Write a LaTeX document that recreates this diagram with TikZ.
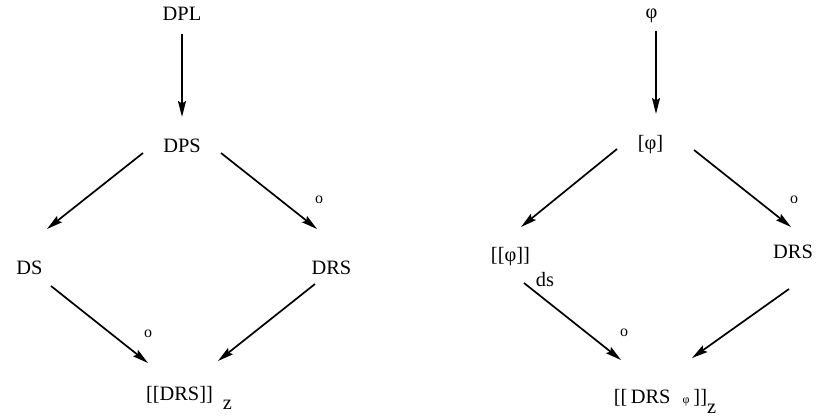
\documentclass[tikz,border=0pt]{standalone}
\usepackage{fontspec}
\setmainfont{Liberation Serif}
\usetikzlibrary{arrows.meta}

\begin{document}
\begin{tikzpicture}[x=0.5pt,y=-0.5pt,
    lbl/.style={anchor=base, inner sep=0pt, font=\fontsize{10.2}{12}\selectfont},
    op/.style={inner sep=0pt, font=\fontsize{8}{9}\selectfont},
    arr/.style={-{Stealth[length=8pt,width=4pt,inset=1.3pt]}, line width=0.85pt}
  ]
  \useasboundingbox (0,0) rectangle (820,417);
  % left square: DPL
  \node[lbl] (dpl) at (182,21) {DPL};
  \node[lbl] (dps) at (182,153) {DPS};
  \node[lbl] (ds) at (29.5,274) {DS};
  \node[lbl] (drsl) at (331.5,274) {DRS};
  \node[lbl] (semdrs) at (189,400) {[[DRS]]\hspace{5pt}\raisebox{-4.5pt}{z}};
  % right square: formula
  \node[lbl] (phi) at (651.5,19) {φ};
  \node[lbl] (brphi) at (650.5,150) {[φ]};
  \node[lbl] (semphi) at (522.5,262) {[[φ]]\hspace{3pt}\raisebox{-12.5pt}{ds}};
  \node[lbl] (drsr) at (793,258) {DRS};
  \node[lbl] (semdrsphi) at (665,403)
    {[[\,DRS\hspace{6pt}{\fontsize{6}{7}\selectfont φ}\hspace{2pt}]]\raisebox{-5pt}{z}};

  \draw[arr] ([shift={(0,13)}]dpl.base) -- ([shift={(0,-36)}]dps.base);
  \draw[arr] ([shift={(-39,0)}]dps.base) -- ([shift={(17.5,-45)}]ds.base);
  \draw[arr] ([shift={(39,0)}]dps.base) -- ([shift={(-14.5,-45)}]drsl.base);
  \draw[arr] ([shift={(21.5,12)}]ds.base) -- ([shift={(-41,-37)}]semdrs.base);
  \draw[arr] ([shift={(-16.5,10)}]drsl.base) -- ([shift={(29,-39)}]semdrs.base);

  \draw[arr] ([shift={(4.5,12)}]phi.base) -- ([shift={(5.5,-36)}]brphi.base);
  \draw[arr] ([shift={(-33.5,-1)}]brphi.base) -- ([shift={(-1.5,-35)}]semphi.base);
  \draw[arr] ([shift={(43.5,0)}]brphi.base) -- ([shift={(-2,-31)}]drsr.base);
  \draw[arr] ([shift={(1.5,21)}]semphi.base) -- ([shift={(-44,-43)}]semdrsphi.base);
  \draw[arr] ([shift={(-4,31)}]drsr.base) -- ([shift={(27,-45)}]semdrsphi.base);

  % composition marks
  \node[op] (o1) at (319,200) {o};
  \node[op] (o2) at (148,334) {o};
  \node[op] (o3) at (794,200) {o};
  \node[op] (o4) at (624,333) {o};
\end{tikzpicture}
\end{document}
